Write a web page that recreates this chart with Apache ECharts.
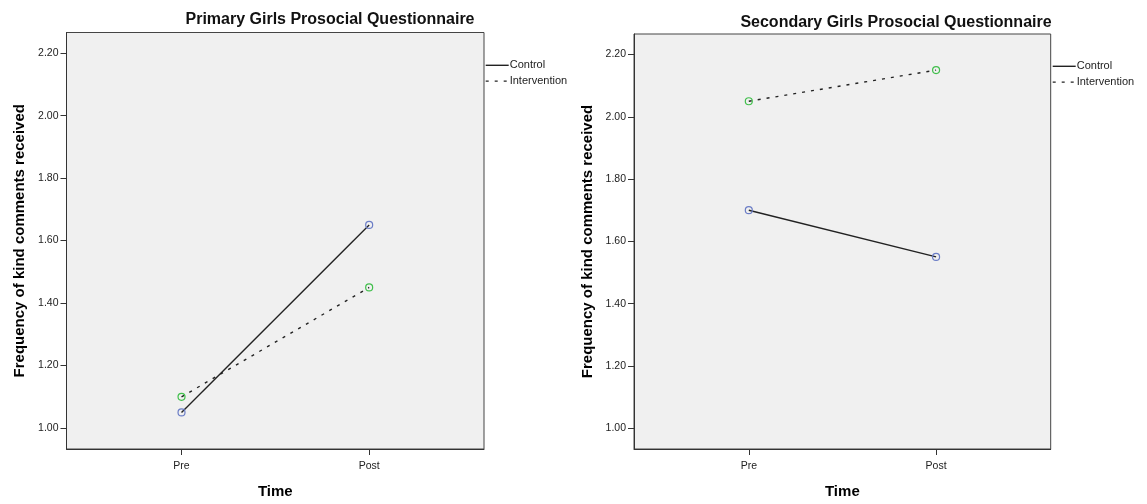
<!DOCTYPE html>
<html>
<head>
<meta charset="utf-8">
<script src="https://cdn.jsdelivr.net/npm/echarts@6/dist/echarts.min.js"></script>
<style>
  html, body { margin: 0; padding: 0; background: #fff; }
  #chart { width: 1147px; height: 504px; }
</style>
</head>
<body>
<div id="chart"></div>
<script>
// Time points and tick labels
const timePoints = ['Pre', 'Post'];
const yTicks = [1.0, 1.2, 1.4, 1.6, 1.8, 2.0, 2.2];

// Primary girls: mean frequency of kind comments received
const primaryControl = [1.05, 1.65];
const primaryIntervention = [1.10, 1.45];

// Secondary girls
const secondaryControl = [1.70, 1.55];
const secondaryIntervention = [2.05, 2.15];

const FONT = 'Liberation Sans, Arial, sans-serif';
const AXIS_COLOR = '#333';

function toPoints(values) {
  return values.map((v, i) => [i, v]);
}

function makeX(gridIndex) {
  return {
    type: 'value', gridIndex: gridIndex,
    min: -0.613, max: 1.612,
    name: 'Time', nameLocation: 'middle', nameGap: 35,
    nameTextStyle: { fontFamily: FONT, fontWeight: 'bold', fontSize: 15, color: '#000' },
    axisLine: { show: true, onZero: false, lineStyle: { color: AXIS_COLOR, width: 1 } },
    axisTick: { show: true, length: 6, customValues: [0, 1], lineStyle: { color: AXIS_COLOR } },
    axisLabel: { customValues: [0, 1], formatter: v => timePoints[Math.round(v)],
      fontFamily: FONT, fontSize: 10.5, color: '#222', margin: 12 },
    splitLine: { show: false }
  };
}

function makeY(gridIndex) {
  return {
    type: 'value', gridIndex: gridIndex,
    min: 0.933, max: 2.266,
    name: 'Frequency of kind comments received', nameLocation: 'middle', nameGap: 39,
    nameTextStyle: { fontFamily: FONT, fontWeight: 'bold', fontSize: 15, color: '#000' },
    axisLine: { show: true, onZero: false, lineStyle: { color: AXIS_COLOR, width: 1 } },
    axisTick: { show: true, length: 6, customValues: yTicks, lineStyle: { color: AXIS_COLOR } },
    axisLabel: { customValues: yTicks, formatter: v => v.toFixed(2),
      fontFamily: FONT, fontSize: 10.5, color: '#222', margin: 8 },
    splitLine: { show: false }
  };
}

function controlSeries(idx, values) {
  return {
    name: 'Control', type: 'line', xAxisIndex: idx, yAxisIndex: idx,
    data: toPoints(values),
    symbol: 'circle', symbolSize: 7,
    itemStyle: { color: 'rgba(0,0,0,0)', borderColor: '#6b7dc6', borderWidth: 1.2 },
    lineStyle: { color: '#222', width: 1.4, type: 'solid' },
    emphasis: { disabled: true }, animation: false
  };
}

function interventionSeries(idx, values) {
  return {
    name: 'Intervention', type: 'line', xAxisIndex: idx, yAxisIndex: idx,
    data: toPoints(values),
    symbol: 'circle', symbolSize: 7,
    itemStyle: { color: 'rgba(0,0,0,0)', borderColor: '#41bf4c', borderWidth: 1.2 },
    lineStyle: { color: '#222', width: 1.4, type: [3, 6] },
    emphasis: { disabled: true }, animation: false
  };
}

function makeLegend(left, top) {
  return {
    left: left, top: top, orient: 'vertical',
    itemWidth: 23, itemHeight: 14, itemGap: 2.6,
    data: ['Control', 'Intervention'],
    itemStyle: { opacity: 0 },
    lineStyle: { width: 1.4 },
    textStyle: { fontFamily: FONT, fontSize: 11, color: '#222', padding: [0, 0, 0, -4] },
    padding: 0, selectedMode: false
  };
}

const chart = echarts.init(document.getElementById('chart'), null, { renderer: 'canvas' });
chart.setOption({
  animation: false,
  backgroundColor: '#fff',
  title: [
    { text: 'Primary Girls Prosocial Questionnaire', left: 325, top: 7, textAlign: 'center',
      textStyle: { fontFamily: FONT, fontSize: 16, fontWeight: 'bold', color: '#111' } },
    { text: 'Secondary Girls Prosocial Questionnaire', left: 891, top: 10, textAlign: 'center',
      textStyle: { fontFamily: FONT, fontSize: 16, fontWeight: 'bold', color: '#111' } }
  ],
  legend: [makeLegend(485, 58.7), makeLegend(1052, 59.7)],
  grid: [
    { left: 66.5, top: 32.5, width: 417.5, height: 424.2, show: true,
      backgroundColor: '#f0f0f0', borderColor: '#444', borderWidth: 1 },
    { left: 634, top: 34, width: 416.7, height: 424.2, show: true,
      backgroundColor: '#f0f0f0', borderColor: '#444', borderWidth: 1 }
  ],
  xAxis: [makeX(0), makeX(1)],
  yAxis: [makeY(0), makeY(1)],
  series: [
    controlSeries(0, primaryControl),
    interventionSeries(0, primaryIntervention),
    controlSeries(1, secondaryControl),
    interventionSeries(1, secondaryIntervention)
  ]
});
</script>
</body>
</html>
